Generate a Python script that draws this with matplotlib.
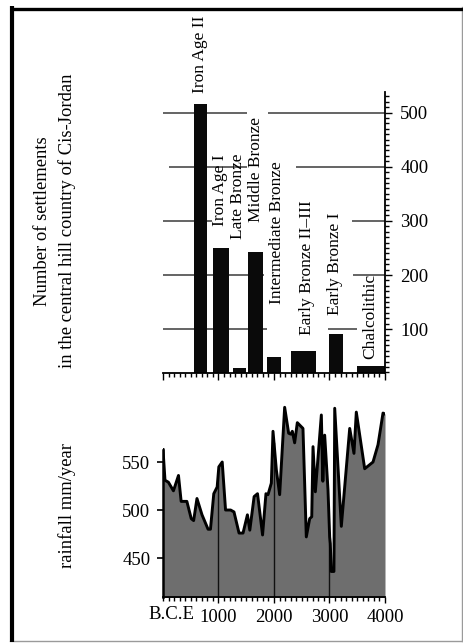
import numpy as np
import matplotlib
matplotlib.use("Agg")
import matplotlib.pyplot as plt
from matplotlib.ticker import MultipleLocator
from matplotlib.lines import Line2D

plt.rcParams['font.family'] = ['Liberation Serif', 'DejaVu Serif']

# settlements per period (bar start year, bar width in years, count)
periods = ['Iron Age II', 'Iron Age I', 'Late Bronze', 'Middle Bronze',
           'Intermediate Bronze', 'Early Bronze II\u2013III', 'Early Bronze I',
           'Chalcolithic']
period_start = [560, 900, 1255, 1537, 1868, 2312, 2997, 3490]
period_width = [230, 290, 240, 259, 252, 445, 252, 510]
settlements = [516, 250, 29, 243, 49, 59, 91, 32]

# label centres (year, settlement scale)
label_x = [667, 1027, 1351, 1676, 2054, 2595, 3099, 3730]
label_y = [607, 357, 346, 394, 279, 213, 221, 123]

# rainfall curve
years = [0, 36, 97, 188, 279, 327, 430, 509, 552, 612, 703, 812, 855, 915,
         976, 1006, 1067, 1127, 1218, 1279, 1370, 1442, 1521, 1564, 1642,
         1703, 1794, 1855, 1892, 1952, 1982, 2042, 2102, 2192, 2264, 2303,
         2330, 2372, 2420, 2522, 2582, 2643, 2680, 2703, 2745, 2853, 2880,
         2913, 2973, 3003, 3015, 3030, 3080, 3094, 3213, 3364, 3441, 3483,
         3634, 3784, 3874, 3964, 4000]
rain = [563, 531, 529, 520, 536, 509, 509, 491, 489, 512, 495, 480, 480, 517,
        524, 545, 550, 500, 500, 498, 476, 476, 495, 479, 514,
        517, 474, 517, 516, 528, 582, 542, 516, 607, 580, 579,
        582, 570, 591, 585, 472, 491, 493, 566, 519, 599, 530,
        578, 521, 472, 465, 436, 436, 606, 483, 585, 559, 602,
        543, 550, 568, 601, 600]

# visible pieces of the broken grid lines (year spans)
grid_levels = [500, 400, 300, 200, 100]
grid_spans = [[(0, 1513), (1892, 4000)],
              [(110, 1513), (2396, 4000)],
              [(0, 890), (3400, 4000)],
              [(0, 1820), (3423, 4000)],
              [(0, 1874), (2973, 3495)]]

W, H = 464, 644
fig = plt.figure(figsize=(W / 100, H / 100), dpi=100)

# ---- settlements panel
ax1 = fig.add_axes([163 / W, 1 - 373 / H, 222 / W, 281 / H])
for lev, spans in zip(grid_levels, grid_spans):
    for a, b in spans:
        ax1.plot([a, b], [lev, lev], color='#4a4a4a', lw=1.2, zorder=1,
                 solid_capstyle='butt')
ax1.bar(period_start, settlements, width=period_width, align='edge',
        color='#0a0a0a', zorder=2)
for name, x, y in zip(periods, label_x, label_y):
    ax1.text(x, y, name, rotation=90, ha='center', va='center',
             fontsize=12.5, clip_on=False, zorder=3)

ax1.set_xlim(0, 4000)
ax1.set_ylim(19, 538)
ax1.spines['top'].set_visible(False)
ax1.spines['left'].set_visible(False)
ax1.spines['right'].set_linewidth(1.3)
ax1.spines['bottom'].set_linewidth(1.3)
ax1.yaxis.tick_right()
ax1.set_yticks([100, 200, 300, 400, 500])
ax1.yaxis.set_minor_locator(MultipleLocator(10))
ax1.xaxis.set_major_locator(MultipleLocator(1000))
ax1.xaxis.set_minor_locator(MultipleLocator(100))
ax1.set_xticklabels([])
ax1.tick_params(axis='y', which='major', direction='out', length=5, width=1,
                pad=6, labelsize=13.5)
ax1.tick_params(axis='y', which='minor', direction='out', length=3, width=1)
ax1.tick_params(axis='x', which='major', direction='out', length=5, width=1)
ax1.tick_params(axis='x', which='minor', direction='out', length=3, width=1)

fig.text(55 / W, 1 - 221 / H,
         'Number of settlements\nin the central hill country of Cis-Jordan',
         rotation=90, ha='center', va='center', fontsize=13.4, linespacing=1.45)

# ---- rainfall panel
ybot = 409.4
ax2 = fig.add_axes([163 / W, 1 - 597 / H, 222 / W, 192 / H])
ax2.fill_between(years, rain, ybot - 50, color='#6e6e6e', lw=0, zorder=1)
for yr in [1000, 2000, 3000]:
    ax2.plot([yr, yr], [ybot, np.interp(yr, years, rain)], color='#111111',
             lw=1.0, zorder=2)
ax2.plot(years, rain, color='black', lw=2.1, zorder=3)
ax2.set_xlim(0, 4000)
ax2.set_ylim(ybot, 609.4)
ax2.spines['top'].set_visible(False)
ax2.spines['right'].set_visible(False)
ax2.spines['left'].set_linewidth(1.8)
ax2.spines['left'].set_bounds(ybot, rain[0])
ax2.spines['bottom'].set_linewidth(1.3)
ax2.set_yticks([450, 500, 550])
ax2.set_xticks([1000, 2000, 3000, 4000])
ax2.xaxis.set_minor_locator(MultipleLocator(100))
ax2.tick_params(axis='y', direction='out', length=4, width=1.2, pad=5,
                labelsize=13.5)
ax2.tick_params(axis='x', which='major', direction='out', length=4, width=1,
                pad=5, labelsize=13.5)
ax2.tick_params(axis='x', which='minor', direction='out', length=3, width=1)
ax2.annotate('B.C.E', xy=(1000, 0), xycoords=('data', 'axes fraction'),
             xytext=(-24, -9), textcoords='offset pixels', ha='right',
             va='top', fontsize=13.5)

fig.text(67 / W, 1 - 506 / H, 'rainfall mm/year', rotation=90,
         ha='center', va='center', fontsize=13.4)

# ---- frame
def px_line(x0, y0, x1, y1, **kw):
    fig.add_artist(Line2D([x0 / W, x1 / W], [1 - y0 / H, 1 - y1 / H],
                          transform=fig.transFigure, **kw))

px_line(462.5, 7, 462.5, 641, color='#9a9a9a', lw=1.0)
px_line(10, 641, 463, 641, color='#9a9a9a', lw=1.0)
px_line(12, 6, 12, 642, color='black', lw=3.0, solid_capstyle='butt')
px_line(10, 8.5, 463, 8.5, color='black', lw=2.4, solid_capstyle='butt')

fig.savefig('out.png', dpi=100)
